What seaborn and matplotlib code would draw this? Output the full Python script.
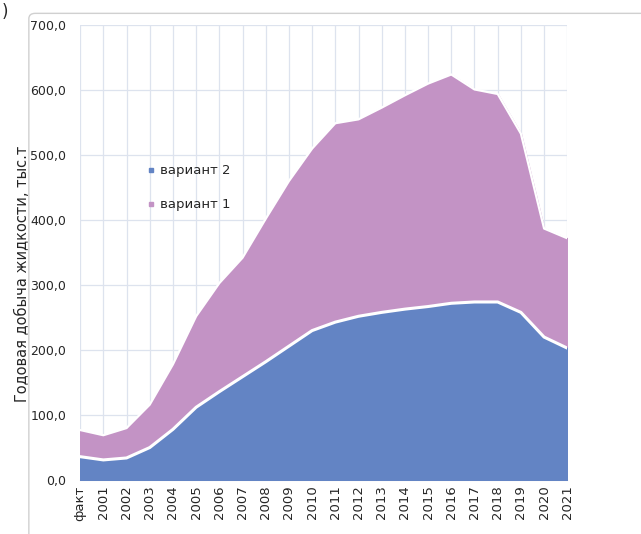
import matplotlib
matplotlib.use("Agg")
import matplotlib.pyplot as plt
import matplotlib.patches as patches
from matplotlib.lines import Line2D
import seaborn as sns
import pandas as pd

# ---- data ----
categories = ['факт', '2001', '2002', '2003', '2004', '2005', '2006', '2007',
              '2008', '2009', '2010', '2011', '2012', '2013', '2014', '2015',
              '2016', '2017', '2018', '2019', '2020', '2021']
variant_1 = [77, 69, 80, 116, 178, 252, 303, 342, 402, 460, 510, 549, 555,
             573, 592, 610, 624, 601, 594, 533, 387, 372]
variant_2 = [36, 31, 34, 50, 78, 112, 136, 159, 182, 206, 230, 243, 252,
             258, 263, 267, 272, 274, 274, 258, 220, 203]
y_ticks = [0, 100, 200, 300, 400, 500, 600, 700]

blue = '#6384C4'
purple = '#C393C5'
grid_col = '#DDE3EE'

df = pd.DataFrame({'cat': categories, 'pos': range(len(categories)),
                   'вариант 1': variant_1, 'вариант 2': variant_2})

sns.set_style('white')
plt.rcParams['font.family'] = ['DejaVu Sans']

fig = plt.figure(figsize=(6.41, 5.34), dpi=100)
ax = fig.add_axes([0.125, 0.101, 0.76, 0.852])

# outer chart frame
fig.patches.append(patches.FancyBboxPatch(
    (0.045, -0.02), 0.97, 0.995, boxstyle='round,pad=0,rounding_size=0.01',
    transform=fig.transFigure, fill=False, edgecolor='#D0D0D0', lw=1.0))
fig.text(0.002, 0.978, ')', fontsize=12, va='center', ha='left')

ax.fill_between(df['pos'], 0, df['вариант 1'], color=purple, zorder=2)
sns.lineplot(data=df, x='pos', y='вариант 1', ax=ax, color='white', lw=1.6,
             zorder=3, legend=False)
ax.fill_between(df['pos'], 0, df['вариант 2'], color=blue, zorder=4)
sns.lineplot(data=df, x='pos', y='вариант 2', ax=ax, color='white', lw=2.2,
             zorder=5, legend=False)

ax.set_xlim(0, len(categories) - 1)
ax.set_ylim(0, 700)
ax.set_xticks(df['pos'])
ax.set_xticklabels(categories, rotation=90, fontsize=9.5)
ax.set_yticks(y_ticks)
ax.set_yticklabels([f'{v:.1f}'.replace('.', ',') for v in y_ticks], fontsize=9)
ax.tick_params(axis='y', length=0, pad=10)
ax.tick_params(axis='x', length=0, pad=4)
ax.grid(True, color=grid_col, lw=0.9, zorder=0)
ax.set_axisbelow(True)
for s in ['top', 'right', 'left']:
    ax.spines[s].set_visible(False)
ax.spines['bottom'].set_color('#D9D9D9')
ax.set_xlabel('')
ax.set_ylabel('Годовая добыча жидкости, тыс.т', fontsize=10.5)
ax.yaxis.set_label_coords(-0.103, 0.453)

leg_handles = [Line2D([], [], marker='s', ls='', color=blue, markersize=3),
               Line2D([], [], marker='s', ls='', color=purple, markersize=3)]
ax.legend(leg_handles, ['вариант 2', 'вариант 1'], loc='upper left',
          bbox_to_anchor=(0.11, 0.72), frameon=False, fontsize=9.5,
          labelspacing=1.6, handletextpad=0.3, handlelength=0.8)

fig.savefig('out.png', dpi=100)
